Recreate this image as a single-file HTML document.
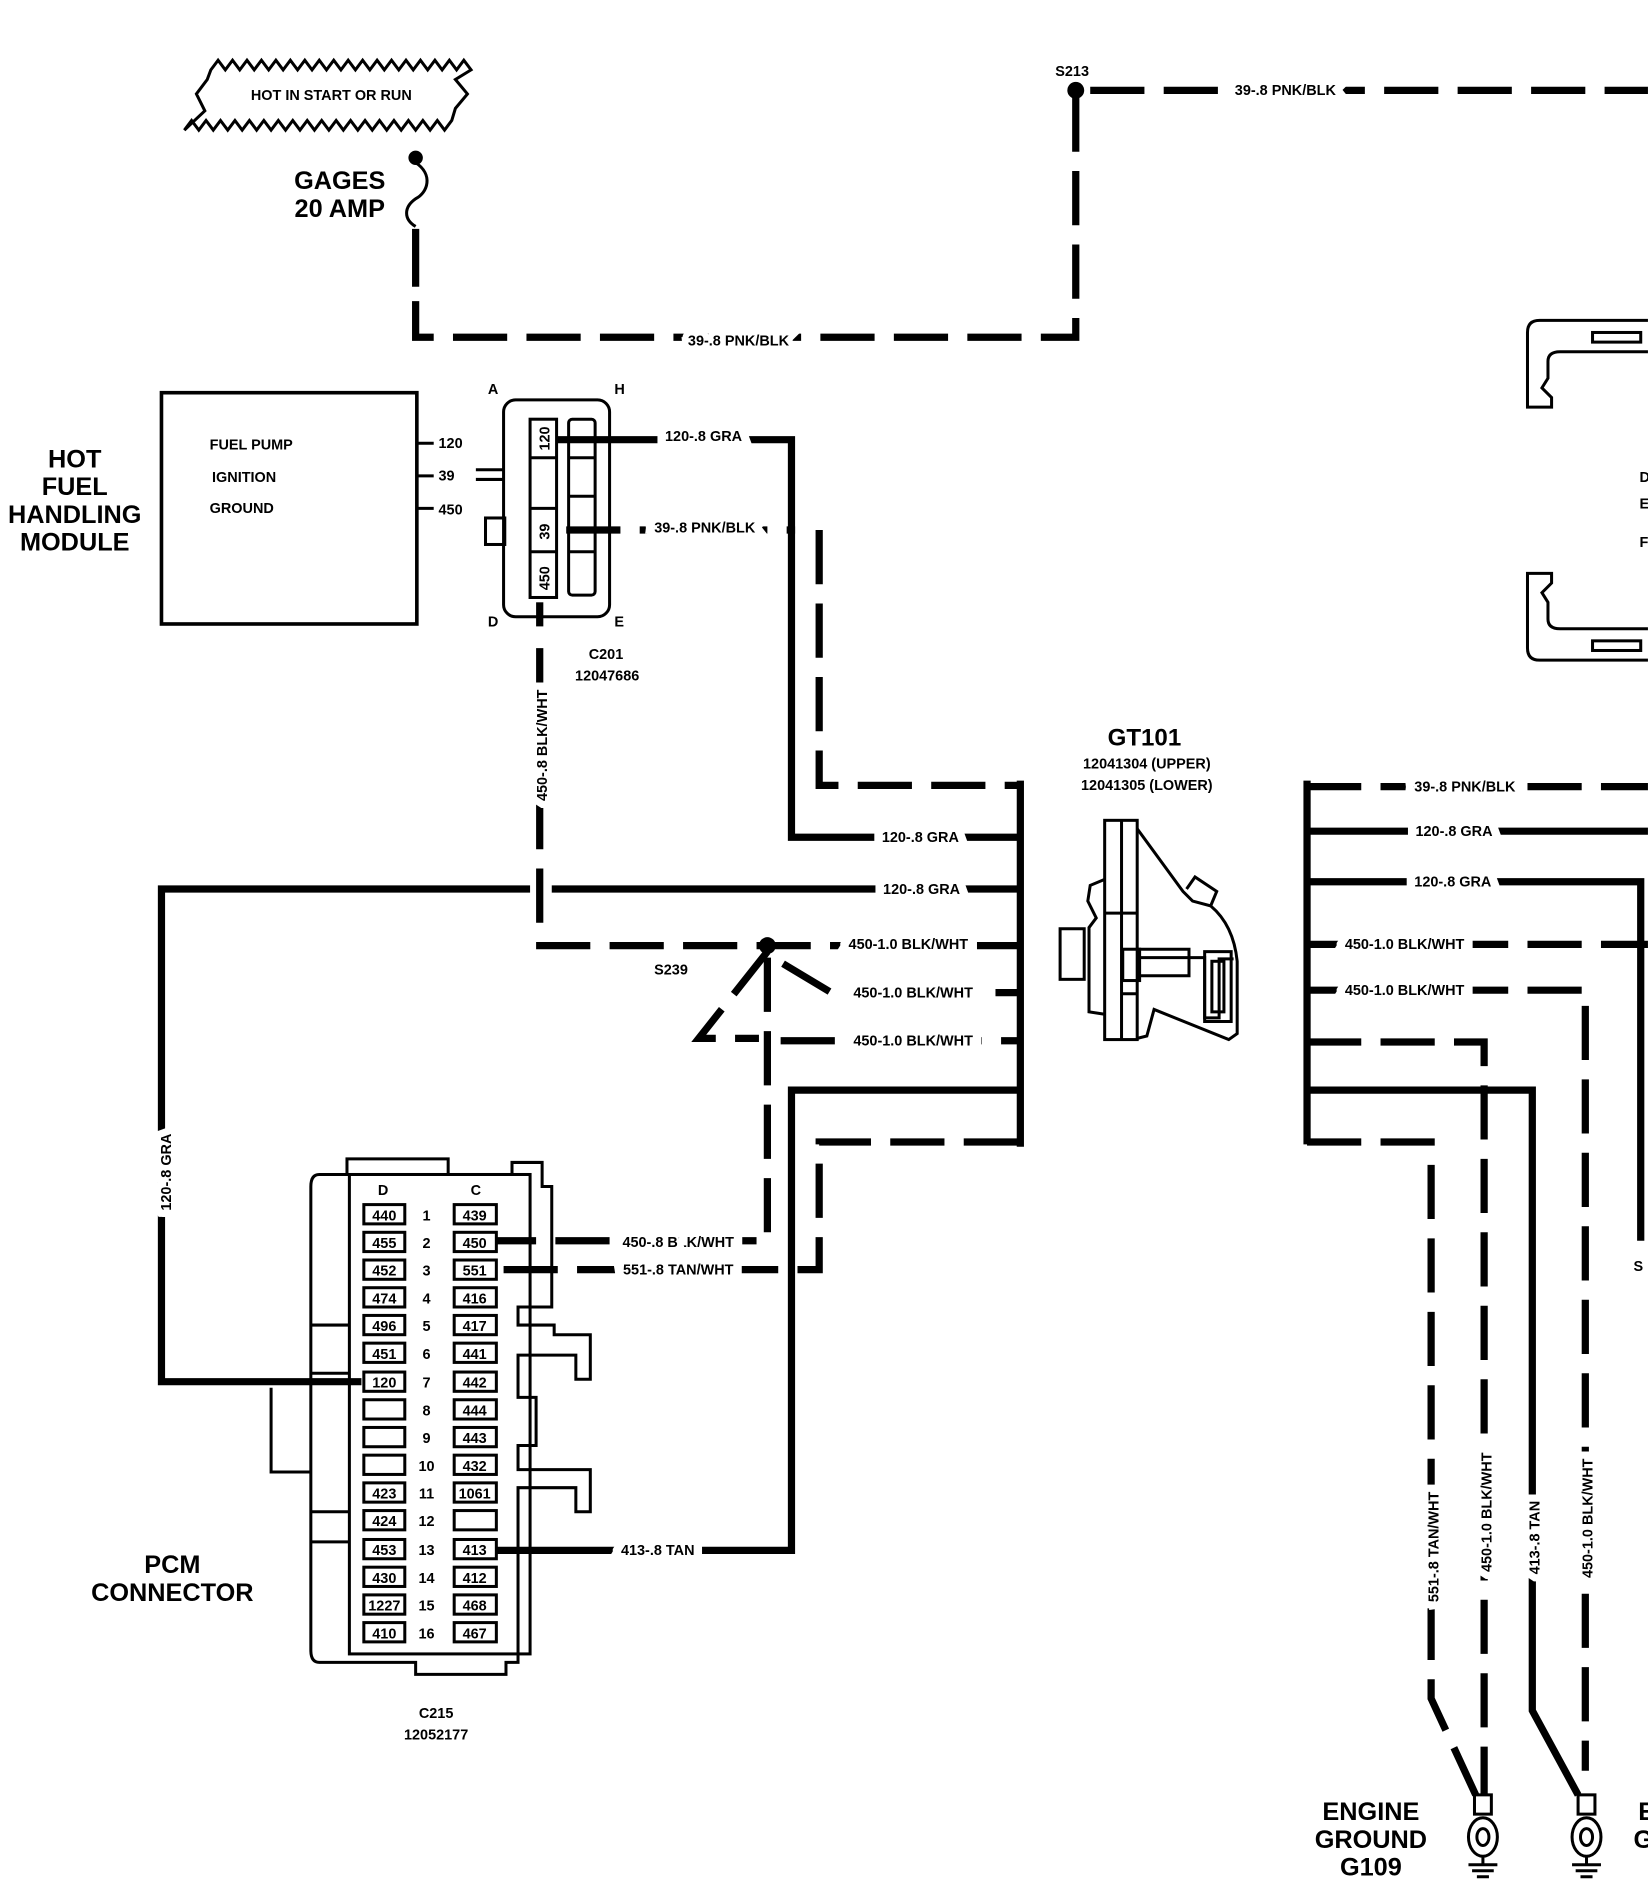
<!DOCTYPE html>
<html><head><meta charset="utf-8"><style>
html,body{margin:0;padding:0;background:#fff;}
svg{display:block;}
text{font-family:"Liberation Sans",sans-serif;font-weight:bold;fill:#000;}
.s{font-size:12px;}
.b{font-size:21px;}
.w{fill:none;stroke:#000;stroke-width:6;}
.d{fill:none;stroke:#000;stroke-width:6;stroke-dasharray:45 16;}
.t{fill:none;stroke:#000;stroke-width:2.5;}
.pin{fill:#fff;stroke:#000;stroke-width:2.5;}
</style></head><body>
<svg width="1648" height="1884" viewBox="0 0 1368 1564" xmlns="http://www.w3.org/2000/svg">
<rect width="1368" height="1564" fill="#fff"/>
<path class="t" d="M175,58 l6,-8 l6,8 l6,-8 l6,8 l6,-8 l6,8 l6,-8 l6,8 l6,-8 l6,8 l6,-8 l6,8 l6,-8 l6,8 l6,-8 l6,8 l6,-8 l6,8 l6,-8 l6,8 l6,-8 l6,8 l6,-8 l6,8 l6,-8 l6,8 l6,-8 l6,8 l6,-8 l6,8 l6,-8 l6,8 l6,-8 l6,8 l6,-8 l6,8 L378,66 L388,78 L378,90 L375,100 l-6,8 l-6,-8 l-6,8 l-6,-8 l-6,8 l-6,-8 l-6,8 l-6,-8 l-6,8 l-6,-8 l-6,8 l-6,-8 l-6,8 l-6,-8 l-6,8 l-6,-8 l-6,8 l-6,-8 l-6,8 l-6,-8 l-6,8 l-6,-8 l-6,8 l-6,-8 l-6,8 l-6,-8 l-6,8 l-6,-8 l-6,8 l-6,-8 l-6,8 l-6,-8 l-6,8 l-6,-8 l-6,8 l-6,-8 l-6,8 L170,92 L163,78 L172,66 Z"/>
<text class="s" x="275" y="83" text-anchor="middle">HOT IN START OR RUN</text>
<circle cx="345" cy="131" r="6"/>
<path class="t" d="M345,135 C360,145 355,160 345,165 C335,172 335,182 345,188"/>
<text class="b" x="282" y="157" text-anchor="middle">GAGES</text>
<text class="b" x="282" y="180" text-anchor="middle">20 AMP</text>
<path class="w" d="M345,190 L345,238"/>
<path class="d" d="M345,250 L345,280 L893,280 L893,75" />
<text class="s" x="613" y="287" text-anchor="middle" style="paint-order:stroke;stroke:#fff;stroke-width:10">39-.8 PNK/BLK</text>
<circle cx="893" cy="75" r="7"/>
<text class="s" x="876" y="63">S213</text>
<path class="d" d="M905,75 L1368,75"/>
<text class="s" x="1067" y="79" text-anchor="middle" style="paint-order:stroke;stroke:#fff;stroke-width:14">39-.8 PNK/BLK</text>
<path class="t" d="M1368,266 L1278,266 Q1268,266 1268,276 L1268,338 L1288,338 L1288,330 L1280,322 L1285,314 L1285,300 Q1285,292 1295,292 L1368,292"/>
<rect x="1322" y="276" width="40" height="8" class="t"/>
<path class="t" d="M1368,548 L1278,548 Q1268,548 1268,538 L1268,476 L1288,476 L1288,484 L1280,492 L1285,500 L1285,514 Q1285,522 1295,522 L1368,522"/>
<rect x="1322" y="532" width="40" height="8" class="t"/>
<text class="s" x="1361" y="400">D</text>
<text class="s" x="1361" y="422">E</text>
<text class="s" x="1361" y="454">F</text>
<text class="b" x="62" y="388" text-anchor="middle">HOT</text>
<text class="b" x="62" y="411" text-anchor="middle">FUEL</text>
<text class="b" x="62" y="434" text-anchor="middle">HANDLING</text>
<text class="b" x="62" y="457" text-anchor="middle">MODULE</text>
<rect x="134" y="326" width="212" height="192" fill="none" stroke="#000" stroke-width="3"/>
<text class="s" x="174" y="373">FUEL PUMP</text>
<text class="s" x="176" y="400">IGNITION</text>
<text class="s" x="174" y="426">GROUND</text>
<path class="t" d="M346,368 H360 M346,395 H360 M346,422 H360"/>
<text class="s" x="364" y="372">120</text>
<text class="s" x="364" y="399">39</text>
<text class="s" x="364" y="427">450</text>
<text class="s" x="405" y="327">A</text>
<text class="s" x="510" y="327">H</text>
<text class="s" x="405" y="520">D</text>
<text class="s" x="510" y="520">E</text>
<path class="t" d="M395,390 H418 M395,398 H418"/>
<rect x="403" y="430" width="16" height="22" class="t"/>
<rect x="418" y="332" width="88" height="180" rx="10" class="t"/>
<rect x="440" y="348" width="22" height="148" class="pin"/>
<path class="t" d="M440,380 H462 M440,422 H462 M440,458 H462"/>
<rect x="472" y="348" width="22" height="146" rx="3" class="t"/>
<path class="t" d="M472,380 H494 M472,412 H494 M472,458 H494"/>
<text class="s" transform="translate(456,374) rotate(-90)">120</text>
<text class="s" transform="translate(456,448) rotate(-90)">39</text>
<text class="s" transform="translate(456,490) rotate(-90)">450</text>
<text class="s" x="503" y="547" text-anchor="middle">C201</text>
<text class="s" x="504" y="565" text-anchor="middle">12047686</text>
<path class="w" d="M462,365 H657 V695 H845"/>
<text class="s" x="584" y="366" text-anchor="middle" style="paint-order:stroke;stroke:#fff;stroke-width:14">120-.8 GRA</text>
<text class="s" x="764" y="699" text-anchor="middle" style="paint-order:stroke;stroke:#fff;stroke-width:14">120-.8 GRA</text>
<path class="d" d="M470,440 H660 M680,440 V652 H845"/>
<text class="s" x="585" y="442" text-anchor="middle" style="paint-order:stroke;stroke:#fff;stroke-width:14">39-.8 PNK/BLK</text>
<path class="w" d="M448,500 V520"/>
<path class="d" d="M448,538 V785 H845"/>
<text class="s" transform="translate(454,665) rotate(-90)" style="paint-order:stroke;stroke:#fff;stroke-width:12">450-.8 BLK/WHT</text>
<text class="s" x="754" y="788" text-anchor="middle" style="paint-order:stroke;stroke:#fff;stroke-width:14">450-1.0 BLK/WHT</text>
<path class="w" d="M440,738 H134 V1147 H300"/>
<path class="w" d="M458,738 H845"/>
<text class="s" x="765" y="742" text-anchor="middle" style="paint-order:stroke;stroke:#fff;stroke-width:14">120-.8 GRA</text>
<text class="s" transform="translate(142,1005) rotate(-90)" style="paint-order:stroke;stroke:#fff;stroke-width:12">120-.8 GRA</text>
<circle cx="637" cy="785" r="7"/>
<text class="s" x="543" y="809">S239</text>
<path class="d" d="M637,790 L580,862 H630" stroke-dasharray="30 12"/>
<path class="d" d="M650,800 L690,824 H845" stroke-dasharray="35 14"/>
<path class="d" d="M648,864 H845"/>
<path class="d" d="M637,795 V1030 H412"/>
<text class="s" x="758" y="828" text-anchor="middle" style="paint-order:stroke;stroke:#fff;stroke-width:14">450-1.0 BLK/WHT</text>
<text class="s" x="758" y="868" text-anchor="middle" style="paint-order:stroke;stroke:#fff;stroke-width:14">450-1.0 BLK/WHT</text>
<text class="s" x="563" y="1035" text-anchor="middle" style="paint-order:stroke;stroke:#fff;stroke-width:14">450-.8 BLK/WHT</text>
<path class="w" d="M845,905 H657 V1287 H412"/>
<text class="s" x="546" y="1291" text-anchor="middle" style="paint-order:stroke;stroke:#fff;stroke-width:14">413-.8 TAN</text>
<path class="d" d="M845,948 H680 V1054 H412"/>
<text class="s" x="563" y="1058" text-anchor="middle" style="paint-order:stroke;stroke:#fff;stroke-width:14">551-.8 TAN/WHT</text>
<path class="w" d="M847,648 V952"/>
<text x="950" y="619" text-anchor="middle" style="font-size:20px">GT101</text>
<text class="s" x="952" y="638" text-anchor="middle">12041304 (UPPER)</text>
<text class="s" x="952" y="656" text-anchor="middle">12041305 (LOWER)</text>
<g class="t" stroke-width="3">
<path d="M944,688 L982,740 L990,748 L1005,752 Q1024,768 1027,798 L1027,858 L1020,863 L958,838 L952,860 L944,862"/>
<path d="M985,738 L992,728 L1010,740 L1005,752"/>
<rect x="917" y="681" width="27" height="182" fill="#fff"/>
<path d="M931,681 V863 M917,758 H944 M931,825 H944"/>
<path d="M917,730 L905,735 L903,748 L910,762 L904,770 L904,840 L917,842"/>
<rect x="880" y="771" width="20" height="42"/>
<path d="M944,788 H987 V810 H944 M944,795 H1000 V845 H1012 V796 L1024,796"/>
<rect x="1000" y="790" width="22" height="58"/>
<rect x="1006" y="798" width="10" height="42"/>
<rect x="932" y="788" width="14" height="26"/>
</g>
<path class="w" d="M1085,648 V950"/>
<path class="d" d="M1085,653 H1368"/>
<text class="s" x="1216" y="657" text-anchor="middle" style="paint-order:stroke;stroke:#fff;stroke-width:14">39-.8 PNK/BLK</text>
<path class="w" d="M1085,690 H1368"/>
<text class="s" x="1207" y="694" text-anchor="middle" style="paint-order:stroke;stroke:#fff;stroke-width:14">120-.8 GRA</text>
<path class="w" d="M1085,732 H1362 V1030"/>
<text class="s" x="1206" y="736" text-anchor="middle" style="paint-order:stroke;stroke:#fff;stroke-width:14">120-.8 GRA</text>
<path class="d" d="M1085,784 H1368"/>
<text class="s" x="1166" y="788" text-anchor="middle" style="paint-order:stroke;stroke:#fff;stroke-width:14">450-1.0 BLK/WHT</text>
<path class="d" d="M1085,822 H1316 V1470"/>
<text class="s" x="1166" y="826" text-anchor="middle" style="paint-order:stroke;stroke:#fff;stroke-width:14">450-1.0 BLK/WHT</text>
<path class="d" d="M1085,865 H1232 V1490"/>
<path class="w" d="M1085,905 H1272 V1420 L1310,1490"/>
<path class="d" d="M1085,948 H1188 V1410 L1225,1490"/>
<text class="s" transform="translate(1194,1330) rotate(-90)" style="paint-order:stroke;stroke:#fff;stroke-width:12">551-.8 TAN/WHT</text>
<text class="s" transform="translate(1238,1305) rotate(-90)" style="paint-order:stroke;stroke:#fff;stroke-width:12">450-1.0 BLK/WHT</text>
<text class="s" transform="translate(1278,1307) rotate(-90)" style="paint-order:stroke;stroke:#fff;stroke-width:12">413-.8 TAN</text>
<text class="s" transform="translate(1322,1310) rotate(-90)" style="paint-order:stroke;stroke:#fff;stroke-width:12">450-1.0 BLK/WHT</text>
<text class="s" x="1356" y="1055">S</text>
<g class="t" stroke-width="3">
<rect x="1224" y="1490" width="14" height="16"/>
<ellipse cx="1231" cy="1525" rx="12" ry="16"/><ellipse cx="1231" cy="1525" rx="5" ry="7"/>
<path d="M1231,1541 V1548 M1219,1548 H1243 M1222,1553 H1240 M1226,1558 H1236"/>
<rect x="1310" y="1490" width="14" height="16"/>
<ellipse cx="1317" cy="1525" rx="12" ry="16"/><ellipse cx="1317" cy="1525" rx="5" ry="7"/>
<path d="M1317,1541 V1548 M1305,1548 H1329 M1308,1553 H1326 M1312,1558 H1322"/>
</g>
<text class="b" x="1138" y="1511" text-anchor="middle">ENGINE</text>
<text class="b" x="1138" y="1534" text-anchor="middle">GROUND</text>
<text class="b" x="1138" y="1557" text-anchor="middle">G109</text>
<text class="b" x="1360" y="1511">E</text>
<text class="b" x="1356" y="1534">G</text>
<g class="t">
<path d="M265,975 H288 V962 H372 V975 H425 V965 H450 V985 H458 V1085 H430 V1100 H460 V1108 H490 V1145 H478 V1125 H430 V1160 H445 V1200 H430 V1220 H490 V1255 H478 V1235 H430 V1380 H420 V1390 H345 V1380 H265 Q258,1380 258,1370 V985 Q258,975 265,975 Z"/>
<rect x="290" y="975" width="150" height="398"/>
<path d="M258,1100 H290 M258,1140 H290 M258,1255 H290 M258,1280 H290 M225,1152 V1222 H258"/>
</g>
<text class="s" x="318" y="992" text-anchor="middle">D</text>
<text class="s" x="395" y="992" text-anchor="middle">C</text>
<g>
<rect x="302" y="1000" width="34" height="16" class="pin"/><text class="s" x="319" y="1013" text-anchor="middle">440</text>
<rect x="377" y="1000" width="35" height="16" class="pin"/><text class="s" x="394" y="1013" text-anchor="middle">439</text>
<text class="s" x="354" y="1013" text-anchor="middle">1</text>
<rect x="302" y="1023" width="34" height="16" class="pin"/><text class="s" x="319" y="1036" text-anchor="middle">455</text>
<rect x="377" y="1023" width="35" height="16" class="pin"/><text class="s" x="394" y="1036" text-anchor="middle">450</text>
<text class="s" x="354" y="1036" text-anchor="middle">2</text>
<rect x="302" y="1046" width="34" height="16" class="pin"/><text class="s" x="319" y="1059" text-anchor="middle">452</text>
<rect x="377" y="1046" width="35" height="16" class="pin"/><text class="s" x="394" y="1059" text-anchor="middle">551</text>
<text class="s" x="354" y="1059" text-anchor="middle">3</text>
<rect x="302" y="1069" width="34" height="16" class="pin"/><text class="s" x="319" y="1082" text-anchor="middle">474</text>
<rect x="377" y="1069" width="35" height="16" class="pin"/><text class="s" x="394" y="1082" text-anchor="middle">416</text>
<text class="s" x="354" y="1082" text-anchor="middle">4</text>
<rect x="302" y="1092" width="34" height="16" class="pin"/><text class="s" x="319" y="1105" text-anchor="middle">496</text>
<rect x="377" y="1092" width="35" height="16" class="pin"/><text class="s" x="394" y="1105" text-anchor="middle">417</text>
<text class="s" x="354" y="1105" text-anchor="middle">5</text>
<rect x="302" y="1115" width="34" height="16" class="pin"/><text class="s" x="319" y="1128" text-anchor="middle">451</text>
<rect x="377" y="1115" width="35" height="16" class="pin"/><text class="s" x="394" y="1128" text-anchor="middle">441</text>
<text class="s" x="354" y="1128" text-anchor="middle">6</text>
<rect x="302" y="1139" width="34" height="16" class="pin"/><text class="s" x="319" y="1152" text-anchor="middle">120</text>
<rect x="377" y="1139" width="35" height="16" class="pin"/><text class="s" x="394" y="1152" text-anchor="middle">442</text>
<text class="s" x="354" y="1152" text-anchor="middle">7</text>
<rect x="302" y="1162" width="34" height="16" class="pin"/>
<rect x="377" y="1162" width="35" height="16" class="pin"/><text class="s" x="394" y="1175" text-anchor="middle">444</text>
<text class="s" x="354" y="1175" text-anchor="middle">8</text>
<rect x="302" y="1185" width="34" height="16" class="pin"/>
<rect x="377" y="1185" width="35" height="16" class="pin"/><text class="s" x="394" y="1198" text-anchor="middle">443</text>
<text class="s" x="354" y="1198" text-anchor="middle">9</text>
<rect x="302" y="1208" width="34" height="16" class="pin"/>
<rect x="377" y="1208" width="35" height="16" class="pin"/><text class="s" x="394" y="1221" text-anchor="middle">432</text>
<text class="s" x="354" y="1221" text-anchor="middle">10</text>
<rect x="302" y="1231" width="34" height="16" class="pin"/><text class="s" x="319" y="1244" text-anchor="middle">423</text>
<rect x="377" y="1231" width="35" height="16" class="pin"/><text class="s" x="394" y="1244" text-anchor="middle">1061</text>
<text class="s" x="354" y="1244" text-anchor="middle">11</text>
<rect x="302" y="1254" width="34" height="16" class="pin"/><text class="s" x="319" y="1267" text-anchor="middle">424</text>
<rect x="377" y="1254" width="35" height="16" class="pin"/>
<text class="s" x="354" y="1267" text-anchor="middle">12</text>
<rect x="302" y="1278" width="34" height="16" class="pin"/><text class="s" x="319" y="1291" text-anchor="middle">453</text>
<rect x="377" y="1278" width="35" height="16" class="pin"/><text class="s" x="394" y="1291" text-anchor="middle">413</text>
<text class="s" x="354" y="1291" text-anchor="middle">13</text>
<rect x="302" y="1301" width="34" height="16" class="pin"/><text class="s" x="319" y="1314" text-anchor="middle">430</text>
<rect x="377" y="1301" width="35" height="16" class="pin"/><text class="s" x="394" y="1314" text-anchor="middle">412</text>
<text class="s" x="354" y="1314" text-anchor="middle">14</text>
<rect x="302" y="1324" width="34" height="16" class="pin"/><text class="s" x="319" y="1337" text-anchor="middle">1227</text>
<rect x="377" y="1324" width="35" height="16" class="pin"/><text class="s" x="394" y="1337" text-anchor="middle">468</text>
<text class="s" x="354" y="1337" text-anchor="middle">15</text>
<rect x="302" y="1347" width="34" height="16" class="pin"/><text class="s" x="319" y="1360" text-anchor="middle">410</text>
<rect x="377" y="1347" width="35" height="16" class="pin"/><text class="s" x="394" y="1360" text-anchor="middle">467</text>
<text class="s" x="354" y="1360" text-anchor="middle">16</text>
</g>
<text class="b" x="143" y="1306" text-anchor="middle">PCM</text>
<text class="b" x="143" y="1329" text-anchor="middle">CONNECTOR</text>
<text class="s" x="362" y="1426" text-anchor="middle">C215</text>
<text class="s" x="362" y="1444" text-anchor="middle">12052177</text>
</svg>
</body></html>
